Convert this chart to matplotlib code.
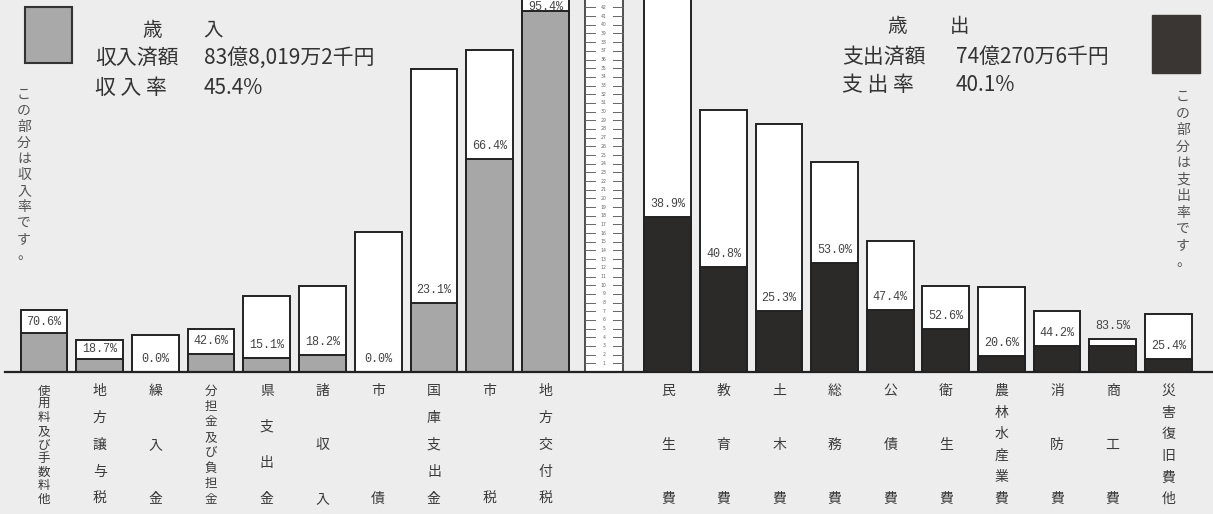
import numpy as np
import matplotlib
matplotlib.use('Agg')
import matplotlib.pyplot as plt
from matplotlib.patches import Rectangle

# ---------------- data ----------------
rev_cats = ['使用料及び手数料他', '地方譲与税', '繰入金', '分担金及び負担金', '県支出金',
            '諸収入', '市債', '国庫支出金', '市税', '地方交付税']
rev_budget = [7.1, 3.7, 4.3, 5.0, 8.7, 9.9, 16.1, 34.9, 37.1, 43.6]
rev_collected = [4.5, 1.5, 0.0, 2.1, 1.6, 2.0, 0.0, 8.0, 24.5, 41.6]
rev_rate = ['70.6%', '18.7%', '0.0%', '42.6%', '15.1%', '18.2%', '0.0%', '23.1%', '66.4%', '95.4%']

exp_cats = ['民生費', '教育費', '土木費', '総務費', '公債費', '衛生費', '農林水産業費',
            '消防費', '商工費', '災害復旧費他']
exp_budget = [46.0, 30.2, 28.6, 24.2, 15.1, 9.9, 9.8, 7.0, 3.8, 6.7]
exp_spent = [17.9, 12.1, 7.0, 12.6, 7.1, 5.0, 1.8, 3.0, 3.0, 1.5]
exp_rate = ['38.9%', '40.8%', '25.3%', '53.0%', '47.4%', '52.6%', '20.6%', '44.2%', '83.5%', '25.4%']

ruler_ticks = list(range(1, 43))

rev_title = ['歳', '入']
rev_lines = [('収入済額', '83億8,019万2千円'), ('収 入 率', '45.4%')]
exp_title = ['歳', '出']
exp_lines = [('支出済額', '74億270万6千円'), ('支 出 率', '40.1%')]
rev_note = 'この部分は収入率です。'
exp_note = 'この部分は支出率です。'

# ---------------- style ----------------
JP = ['Noto Sans CJK JP', 'DejaVu Sans']
W, H = 1213, 514
fig = plt.figure(figsize=(W / 100, H / 100), dpi=100)
fig.patch.set_facecolor('#ededed')
ax = fig.add_axes([0, 0, 1, 1])
ax.set_axis_off()
ax.set_facecolor('none')

PXX = 55.7   # pixels per bar slot
PXY = 8.68   # pixels per value unit
X0, Y0 = 44, 372
ax.set_xlim(-X0 / PXX, (W - X0) / PXX)
ax.set_ylim(-(H - Y0) / PXY, Y0 / PXY)

def fx(px):
    return px / W

def fy(py):
    return 1 - py / H

rev_x = np.arange(len(rev_cats))
ruler_x = 10.05
exp_x = 11.2 + np.arange(len(exp_cats)) * (55.6 / PXX)
bw = 0.84
edge = '#222222'

# revenue bars
ax.bar(rev_x, rev_budget, width=bw, color='white', edgecolor=edge, linewidth=1.4, zorder=2)
ax.bar(rev_x, rev_collected, width=bw, color='#a7a7a7', edgecolor=edge, linewidth=1.4, zorder=3)
# expenditure bars
ax.bar(exp_x, exp_budget, width=bw, color='white', edgecolor=edge, linewidth=1.4, zorder=2)
ax.bar(exp_x, exp_spent, width=bw, color='#2b2a28', edgecolor=edge, linewidth=1.4, zorder=3)

# percentage labels
ymax = ax.get_ylim()[1]
def pct_labels(xs, tops, fills, labels):
    for x, t, f, lab in zip(xs, tops, fills, labels):
        if t - f < 1.8:
            y = t + 1.5
        else:
            y = min(f + 1.5, (f + t) / 2)
        y = min(y, ymax - 0.75)
        ax.text(x, y, lab, ha='center', va='center', fontsize=8.5,
                family=['Liberation Mono', 'DejaVu Sans Mono'], color='#444444', zorder=5)

pct_labels(rev_x, rev_budget, rev_collected, rev_rate)
pct_labels(exp_x, exp_budget, exp_spent, exp_rate)

# ruler
rw = 0.68
ax.add_patch(Rectangle((ruler_x - rw / 2, 0), rw, 60, facecolor='white',
                       edgecolor='#333333', linewidth=1.2, zorder=2))
tl = 0.18
for k in ruler_ticks:
    ax.plot([ruler_x - rw / 2, ruler_x - rw / 2 + tl], [k, k], color='#666666', lw=0.7, zorder=3)
    ax.plot([ruler_x + rw / 2 - tl, ruler_x + rw / 2], [k, k], color='#666666', lw=0.7, zorder=3)
    ax.text(ruler_x, k, str(k), ha='center', va='center', fontsize=3.3,
            color='#666666', zorder=3)

# baseline
ax.plot([ax.get_xlim()[0] + 5 / PXX, ax.get_xlim()[1]], [0, 0], color=edge, lw=1.6, zorder=6)

# category labels (vertical, stacked characters)
ytop = (Y0 - 391) / PXY
ybot = (Y0 - 499) / PXY
def cat_labels(xs, cats):
    for x, c in zip(xs, cats):
        n = len(c)
        ys = np.linspace(ytop, ybot, n) if n > 1 else [ytop]
        fs = 9 if n >= 8 else 10
        for ch, y in zip(c, ys):
            ax.text(x, y, ch, ha='center', va='center', fontsize=fs,
                    family=JP, color='#3a3a3a')

cat_labels(rev_x, rev_cats)
cat_labels(exp_x, exp_cats)

# legend boxes
fig.add_artist(Rectangle((fx(25), fy(63)), fx(47), 56 / H, transform=fig.transFigure,
                         facecolor='#a9a9a9', edgecolor='#333333', linewidth=1.5))
fig.add_artist(Rectangle((fx(1152), fy(73)), fx(48), 58 / H, transform=fig.transFigure,
                         facecolor='#3a3633', edgecolor='#3a3633', linewidth=1.0))

# vertical notes
def vnote(x, y0, y1, s):
    ys = np.linspace(y0, y1, len(s))
    for ch, y in zip(s, ys):
        fig.text(fx(x), fy(y), ch, ha='center', va='center', fontsize=10,
                 family=JP, color='#555555')

vnote(24, 95, 255, rev_note)
vnote(1183, 97, 262, exp_note)

# titles
tc = '#333333'
fig.text(fx(152), fy(30), rev_title[0], ha='center', va='center', fontsize=14, family=JP, color=tc)
fig.text(fx(213), fy(30), rev_title[1], ha='center', va='center', fontsize=14, family=JP, color=tc)
for (a, b), y in zip(rev_lines, [58, 88]):
    fig.text(fx(95), fy(y), a, ha='left', va='center', fontsize=15, family=JP, color=tc)
    fig.text(fx(204), fy(y), b, ha='left', va='center', fontsize=15, family=JP, color=tc)

fig.text(fx(897), fy(27), exp_title[0], ha='center', va='center', fontsize=14, family=JP, color=tc)
fig.text(fx(960), fy(27), exp_title[1], ha='center', va='center', fontsize=14, family=JP, color=tc)
for (a, b), y in zip(exp_lines, [57, 85]):
    fig.text(fx(842), fy(y), a, ha='left', va='center', fontsize=15, family=JP, color=tc)
    fig.text(fx(956), fy(y), b, ha='left', va='center', fontsize=15, family=JP, color=tc)

fig.savefig('out.png', dpi=100, facecolor=fig.get_facecolor())
